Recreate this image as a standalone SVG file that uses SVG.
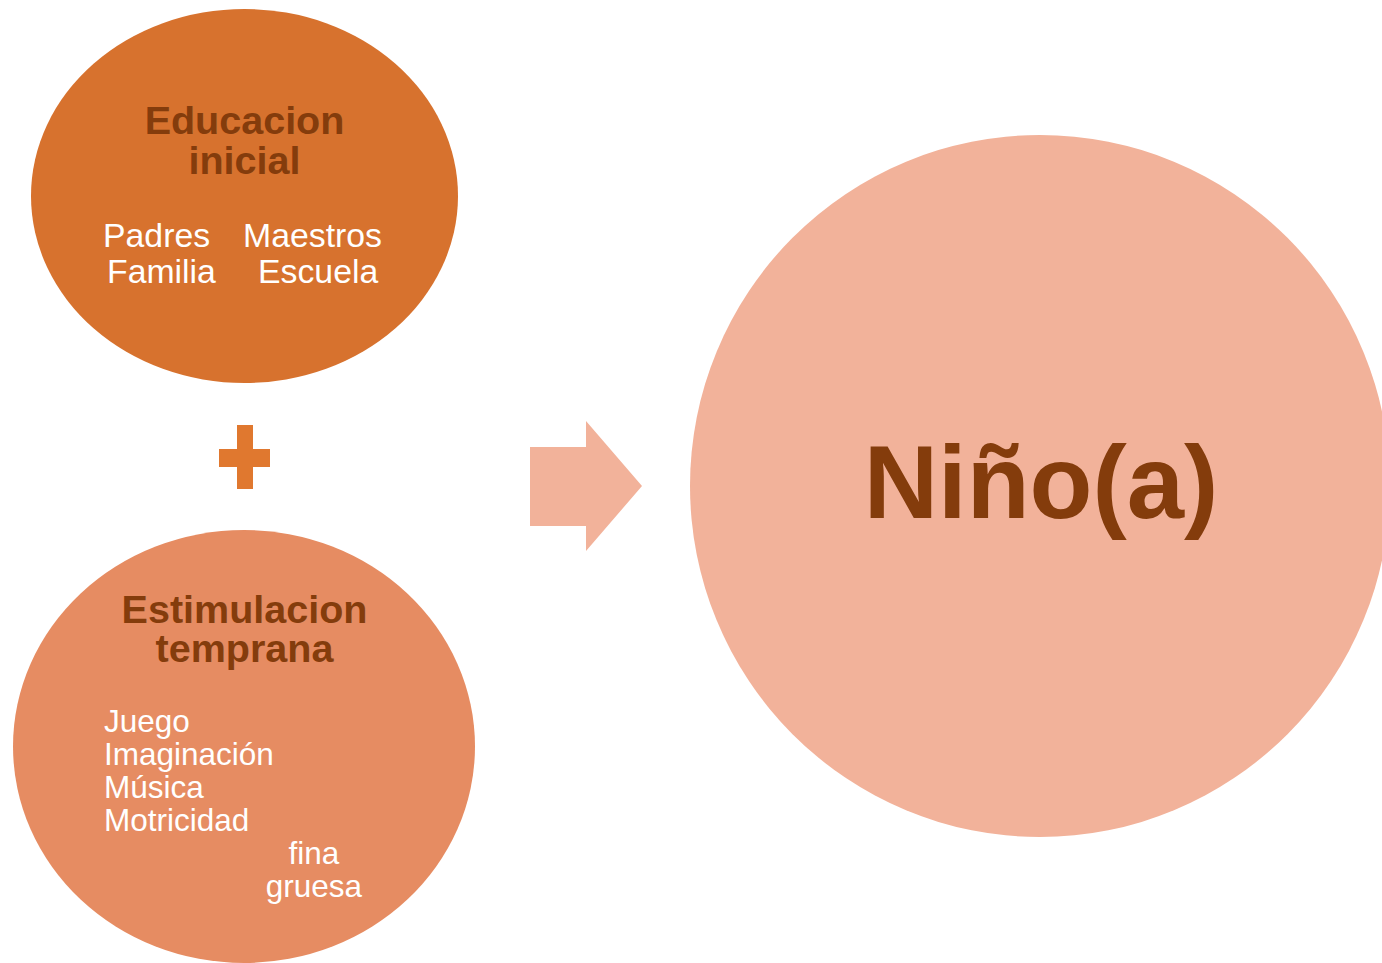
<svg xmlns="http://www.w3.org/2000/svg" width="1382" height="963" viewBox="0 0 1382 963">
<style>
.title{font-family:"Liberation Sans",Arial,sans-serif;font-weight:bold;fill:#843C0C;text-anchor:middle}
.item{font-family:"Liberation Sans",Arial,sans-serif;fill:#FFFFFF}
</style>
<rect width="1382" height="963" fill="#FFFFFF"/>
<g id="educacion">
<ellipse cx="244.5" cy="196" rx="213.5" ry="187" fill="#D7722E"/>
<text class="title" x="244.5" y="134" font-size="39.5">Educacion</text>
<text class="title" x="244.5" y="174" font-size="39.5">inicial</text>
<text class="item" x="103" y="247" font-size="33.8">Padres</text>
<text class="item" x="243" y="247" font-size="33.8">Maestros</text>
<text class="item" x="107" y="283" font-size="33.8">Familia</text>
<text class="item" x="258" y="283" font-size="33.8">Escuela</text>
</g>
<g id="plus">
<path d="M237,425 H253 V449 H270 V467 H253 V489 H237 V467 H219 V449 H237 Z" fill="#E0782F"/>
</g>
<g id="estimulacion">
<ellipse cx="244" cy="746.5" rx="231" ry="216.5" fill="#E68C62"/>
<text class="title" x="244.5" y="623" font-size="39.5">Estimulacion</text>
<text class="title" x="244.5" y="662" font-size="39.5">temprana</text>
<text class="item" x="104" y="732" font-size="31.5">Juego</text>
<text class="item" x="104" y="765" font-size="31.5">Imaginación</text>
<text class="item" x="104" y="798" font-size="31.5">Música</text>
<text class="item" x="104" y="831" font-size="31.5">Motricidad</text>
<text class="item" x="314" y="864" font-size="31.5" text-anchor="middle">fina</text>
<text class="item" x="314" y="897" font-size="31.5" text-anchor="middle">gruesa</text>
</g>
<g id="connectors">
<path d="M530,447 H586 V421 L642,486 L586,551 V526 H530 Z" fill="#F2B29A"/>
</g>
<g id="nino">
<ellipse cx="1040" cy="486" rx="350" ry="351" fill="#F2B29A"/>
<text class="title" x="1041" y="518" font-size="103">Niño(a)</text>
</g>
</svg>
